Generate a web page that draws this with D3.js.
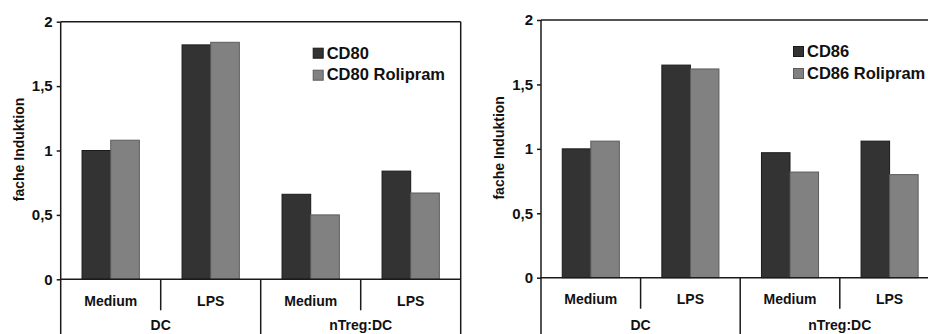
<!DOCTYPE html>
<html>
<head>
<meta charset="utf-8">
<script src="https://cdn.jsdelivr.net/npm/d3@7/dist/d3.min.js"></script>
<style>
  html, body { margin: 0; padding: 0; background: #fff; }
  svg { display: block; }
  text { font-family: "Liberation Sans", Arial, sans-serif; font-weight: bold; fill: #111; }
</style>
</head>
<body>
<svg id="chart" width="928" height="334"></svg>
<script>
// Conditions on the x axis (two levels: stimulus, then culture)
const conditions = ["DC Medium", "DC LPS", "nTreg:DC Medium", "nTreg:DC LPS"];
const stimulusLabels = ["Medium", "LPS", "Medium", "LPS"];
const groupLabels = ["DC", "nTreg:DC"];
const yTicks = [0, 0.5, 1, 1.5, 2];
const yLabel = "fache Induktion";

// Left panel: CD80
const cd80Names = ["CD80", "CD80 Rolipram"];
const cd80 = [1.00, 1.82, 0.66, 0.84];
const cd80Rolipram = [1.08, 1.84, 0.50, 0.67];

// Right panel: CD86
const cd86Names = ["CD86", "CD86 Rolipram"];
const cd86 = [1.00, 1.65, 0.97, 1.06];
const cd86Rolipram = [1.06, 1.62, 0.82, 0.80];

const seriesFill = ["#333333", "#818181"];
const seriesStroke = ["#1a1a1a", "#5c5c5c"];

const de = d3.formatLocale({ decimal: ",", thousands: ".", grouping: [3], currency: ["", " €"] });
const fmt = v => de.format("")(v);

const svg = d3.select("#chart");
const H = 334;

function panel(opts) {
  const { left, right, top, zero, names, values, drawRight } = opts;
  const g = svg.append("g");

  const x0 = d3.scaleBand().domain(conditions).range([left, right]).padding(0);
  const x1 = d3.scaleBand().domain(names).range([0, x0.bandwidth()]).paddingInner(0).paddingOuter(0.745);
  const y = d3.scaleLinear().domain([0, 2]).range([zero, top]);

  // Bars
  names.forEach((name, si) => {
    g.append("g").selectAll("rect")
      .data(conditions.map((c, i) => ({ c, v: values[si][i] })))
      .join("rect")
      .attr("x", d => x0(d.c) + x1(name))
      .attr("y", d => y(d.v))
      .attr("width", x1.bandwidth())
      .attr("height", d => y(0) - y(d.v))
      .attr("fill", seriesFill[si])
      .attr("stroke", seriesStroke[si])
      .attr("stroke-width", 1);
  });

  const lineCol = "#1a1a1a";
  const lw = 1.5;

  // Frame: top edge, optional right edge (extends through the category area)
  g.append("line").attr("x1", left).attr("x2", Math.min(right, 928)).attr("y1", top).attr("y2", top)
    .attr("stroke", lineCol).attr("stroke-width", lw);
  if (drawRight) {
    g.append("line").attr("x1", right).attr("x2", right).attr("y1", top).attr("y2", H)
      .attr("stroke", lineCol).attr("stroke-width", lw);
  }

  // Y axis
  const yAxis = d3.axisLeft(y).tickValues(yTicks).tickFormat(fmt).tickSize(4).tickSizeOuter(0).tickPadding(4);
  const ya = g.append("g").attr("transform", `translate(${left},0)`).call(yAxis);
  ya.select(".domain").remove();
  ya.selectAll(".tick line").attr("stroke", lineCol).attr("stroke-width", lw);
  ya.selectAll(".tick text").style("font-size", "15px").style("font-family", "Liberation Sans, Arial, sans-serif")
    .style("font-weight", "bold").attr("fill", "#111");
  g.append("line").attr("x1", left).attr("x2", left).attr("y1", top).attr("y2", H)
    .attr("stroke", lineCol).attr("stroke-width", lw);

  // Zero line
  g.append("line").attr("x1", left).attr("x2", Math.min(right, 928)).attr("y1", y(0)).attr("y2", y(0))
    .attr("stroke", lineCol).attr("stroke-width", lw);

  // Category dividers: within groups short, between groups full height
  conditions.slice(1).forEach((c, i) => {
    const xx = x0(c);
    const full = (i + 1) % 2 === 0;
    g.append("line").attr("x1", xx).attr("x2", xx).attr("y1", y(0)).attr("y2", full ? H : y(0) + 31)
      .attr("stroke", lineCol).attr("stroke-width", lw);
  });

  // Stimulus labels
  g.append("g").selectAll("text").data(conditions).join("text")
    .attr("x", c => x0(c) + x0.bandwidth() / 2)
    .attr("y", y(0) + 26.5)
    .attr("text-anchor", "middle")
    .style("font-size", "14px")
    .text((c, i) => stimulusLabels[i]);

  // Culture labels
  g.append("g").selectAll("text").data(groupLabels).join("text")
    .attr("x", (d, i) => x0(conditions[i * 2]) + x0.bandwidth())
    .attr("y", Math.min(y(0) + 53.5, H - 3.6))
    .attr("text-anchor", "middle")
    .style("font-size", "14px")
    .text(d => d);

  // Y title
  g.append("text")
    .attr("transform", `translate(${left - 37},${(top + zero) / 2 - 1}) rotate(-90)`)
    .attr("text-anchor", "middle")
    .style("font-size", "14px")
    .text(yLabel);

  // Legend
  const lg = g.append("g").attr("transform", `translate(${left + 252},${top + 26})`);
  names.forEach((n, i) => {
    lg.append("rect").attr("x", 0.5).attr("y", i * 22 + 0.5).attr("width", 10).attr("height", 10)
      .attr("fill", seriesFill[i]).attr("stroke", seriesStroke[i]).attr("stroke-width", 1);
    lg.append("text").attr("x", 14).attr("y", i * 22 + 10.8)
      .style("font-size", "16.5px").text(n);
  });
}

panel({ left: 60.7, right: 460.7, top: 21.7, zero: 279.3, names: cd80Names,
        values: [cd80, cd80Rolipram], drawRight: true });
panel({ left: 541, right: 939.4, top: 20, zero: 277.7, names: cd86Names,
        values: [cd86, cd86Rolipram], drawRight: false });
</script>
</body>
</html>
